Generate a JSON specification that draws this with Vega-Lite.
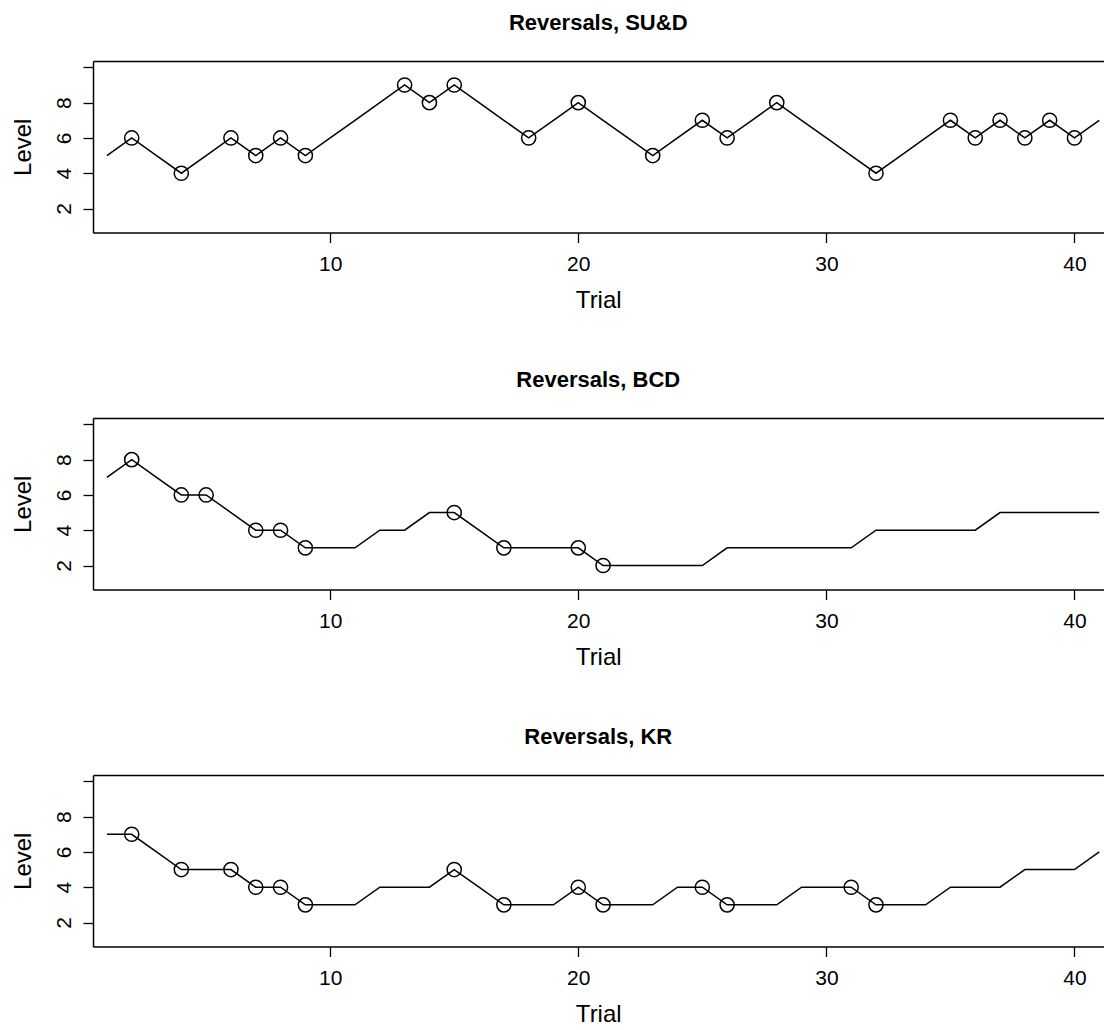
{
  "$schema": "https://vega.github.io/schema/vega-lite/v6.json",
  "padding": {"left": 11, "top": 12, "right": 0, "bottom": 0},
  "background": "white",
  "spacing": 56,
  "config": {
    "view": {"stroke": null},
    "font": "Liberation Sans",
    "title": {"font": "Liberation Sans", "fontSize": 22, "fontWeight": "bold", "color": "black", "anchor": "middle", "offset": 26},
    "axis": {"domainColor": "black", "domainWidth": 1.5, "tickColor": "black", "tickWidth": 1.3, "labelColor": "black", "titleColor": "black", "labelFont": "Liberation Sans", "titleFont": "Liberation Sans", "grid": false}
  },
  "datasets": {
    "rev": [
      {"panel": "SU&D", "trial": 1, "level": 5, "rev": false},
      {"panel": "SU&D", "trial": 2, "level": 6, "rev": true},
      {"panel": "SU&D", "trial": 3, "level": 5, "rev": false},
      {"panel": "SU&D", "trial": 4, "level": 4, "rev": true},
      {"panel": "SU&D", "trial": 5, "level": 5, "rev": false},
      {"panel": "SU&D", "trial": 6, "level": 6, "rev": true},
      {"panel": "SU&D", "trial": 7, "level": 5, "rev": true},
      {"panel": "SU&D", "trial": 8, "level": 6, "rev": true},
      {"panel": "SU&D", "trial": 9, "level": 5, "rev": true},
      {"panel": "SU&D", "trial": 10, "level": 6, "rev": false},
      {"panel": "SU&D", "trial": 11, "level": 7, "rev": false},
      {"panel": "SU&D", "trial": 12, "level": 8, "rev": false},
      {"panel": "SU&D", "trial": 13, "level": 9, "rev": true},
      {"panel": "SU&D", "trial": 14, "level": 8, "rev": true},
      {"panel": "SU&D", "trial": 15, "level": 9, "rev": true},
      {"panel": "SU&D", "trial": 16, "level": 8, "rev": false},
      {"panel": "SU&D", "trial": 17, "level": 7, "rev": false},
      {"panel": "SU&D", "trial": 18, "level": 6, "rev": true},
      {"panel": "SU&D", "trial": 19, "level": 7, "rev": false},
      {"panel": "SU&D", "trial": 20, "level": 8, "rev": true},
      {"panel": "SU&D", "trial": 21, "level": 7, "rev": false},
      {"panel": "SU&D", "trial": 22, "level": 6, "rev": false},
      {"panel": "SU&D", "trial": 23, "level": 5, "rev": true},
      {"panel": "SU&D", "trial": 24, "level": 6, "rev": false},
      {"panel": "SU&D", "trial": 25, "level": 7, "rev": true},
      {"panel": "SU&D", "trial": 26, "level": 6, "rev": true},
      {"panel": "SU&D", "trial": 27, "level": 7, "rev": false},
      {"panel": "SU&D", "trial": 28, "level": 8, "rev": true},
      {"panel": "SU&D", "trial": 29, "level": 7, "rev": false},
      {"panel": "SU&D", "trial": 30, "level": 6, "rev": false},
      {"panel": "SU&D", "trial": 31, "level": 5, "rev": false},
      {"panel": "SU&D", "trial": 32, "level": 4, "rev": true},
      {"panel": "SU&D", "trial": 33, "level": 5, "rev": false},
      {"panel": "SU&D", "trial": 34, "level": 6, "rev": false},
      {"panel": "SU&D", "trial": 35, "level": 7, "rev": true},
      {"panel": "SU&D", "trial": 36, "level": 6, "rev": true},
      {"panel": "SU&D", "trial": 37, "level": 7, "rev": true},
      {"panel": "SU&D", "trial": 38, "level": 6, "rev": true},
      {"panel": "SU&D", "trial": 39, "level": 7, "rev": true},
      {"panel": "SU&D", "trial": 40, "level": 6, "rev": true},
      {"panel": "SU&D", "trial": 41, "level": 7, "rev": false},
      {"panel": "BCD", "trial": 1, "level": 7, "rev": false},
      {"panel": "BCD", "trial": 2, "level": 8, "rev": true},
      {"panel": "BCD", "trial": 3, "level": 7, "rev": false},
      {"panel": "BCD", "trial": 4, "level": 6, "rev": true},
      {"panel": "BCD", "trial": 5, "level": 6, "rev": true},
      {"panel": "BCD", "trial": 6, "level": 5, "rev": false},
      {"panel": "BCD", "trial": 7, "level": 4, "rev": true},
      {"panel": "BCD", "trial": 8, "level": 4, "rev": true},
      {"panel": "BCD", "trial": 9, "level": 3, "rev": true},
      {"panel": "BCD", "trial": 10, "level": 3, "rev": false},
      {"panel": "BCD", "trial": 11, "level": 3, "rev": false},
      {"panel": "BCD", "trial": 12, "level": 4, "rev": false},
      {"panel": "BCD", "trial": 13, "level": 4, "rev": false},
      {"panel": "BCD", "trial": 14, "level": 5, "rev": false},
      {"panel": "BCD", "trial": 15, "level": 5, "rev": true},
      {"panel": "BCD", "trial": 16, "level": 4, "rev": false},
      {"panel": "BCD", "trial": 17, "level": 3, "rev": true},
      {"panel": "BCD", "trial": 18, "level": 3, "rev": false},
      {"panel": "BCD", "trial": 19, "level": 3, "rev": false},
      {"panel": "BCD", "trial": 20, "level": 3, "rev": true},
      {"panel": "BCD", "trial": 21, "level": 2, "rev": true},
      {"panel": "BCD", "trial": 22, "level": 2, "rev": false},
      {"panel": "BCD", "trial": 23, "level": 2, "rev": false},
      {"panel": "BCD", "trial": 24, "level": 2, "rev": false},
      {"panel": "BCD", "trial": 25, "level": 2, "rev": false},
      {"panel": "BCD", "trial": 26, "level": 3, "rev": false},
      {"panel": "BCD", "trial": 27, "level": 3, "rev": false},
      {"panel": "BCD", "trial": 28, "level": 3, "rev": false},
      {"panel": "BCD", "trial": 29, "level": 3, "rev": false},
      {"panel": "BCD", "trial": 30, "level": 3, "rev": false},
      {"panel": "BCD", "trial": 31, "level": 3, "rev": false},
      {"panel": "BCD", "trial": 32, "level": 4, "rev": false},
      {"panel": "BCD", "trial": 33, "level": 4, "rev": false},
      {"panel": "BCD", "trial": 34, "level": 4, "rev": false},
      {"panel": "BCD", "trial": 35, "level": 4, "rev": false},
      {"panel": "BCD", "trial": 36, "level": 4, "rev": false},
      {"panel": "BCD", "trial": 37, "level": 5, "rev": false},
      {"panel": "BCD", "trial": 38, "level": 5, "rev": false},
      {"panel": "BCD", "trial": 39, "level": 5, "rev": false},
      {"panel": "BCD", "trial": 40, "level": 5, "rev": false},
      {"panel": "BCD", "trial": 41, "level": 5, "rev": false},
      {"panel": "KR", "trial": 1, "level": 7, "rev": false},
      {"panel": "KR", "trial": 2, "level": 7, "rev": true},
      {"panel": "KR", "trial": 3, "level": 6, "rev": false},
      {"panel": "KR", "trial": 4, "level": 5, "rev": true},
      {"panel": "KR", "trial": 5, "level": 5, "rev": false},
      {"panel": "KR", "trial": 6, "level": 5, "rev": true},
      {"panel": "KR", "trial": 7, "level": 4, "rev": true},
      {"panel": "KR", "trial": 8, "level": 4, "rev": true},
      {"panel": "KR", "trial": 9, "level": 3, "rev": true},
      {"panel": "KR", "trial": 10, "level": 3, "rev": false},
      {"panel": "KR", "trial": 11, "level": 3, "rev": false},
      {"panel": "KR", "trial": 12, "level": 4, "rev": false},
      {"panel": "KR", "trial": 13, "level": 4, "rev": false},
      {"panel": "KR", "trial": 14, "level": 4, "rev": false},
      {"panel": "KR", "trial": 15, "level": 5, "rev": true},
      {"panel": "KR", "trial": 16, "level": 4, "rev": false},
      {"panel": "KR", "trial": 17, "level": 3, "rev": true},
      {"panel": "KR", "trial": 18, "level": 3, "rev": false},
      {"panel": "KR", "trial": 19, "level": 3, "rev": false},
      {"panel": "KR", "trial": 20, "level": 4, "rev": true},
      {"panel": "KR", "trial": 21, "level": 3, "rev": true},
      {"panel": "KR", "trial": 22, "level": 3, "rev": false},
      {"panel": "KR", "trial": 23, "level": 3, "rev": false},
      {"panel": "KR", "trial": 24, "level": 4, "rev": false},
      {"panel": "KR", "trial": 25, "level": 4, "rev": true},
      {"panel": "KR", "trial": 26, "level": 3, "rev": true},
      {"panel": "KR", "trial": 27, "level": 3, "rev": false},
      {"panel": "KR", "trial": 28, "level": 3, "rev": false},
      {"panel": "KR", "trial": 29, "level": 4, "rev": false},
      {"panel": "KR", "trial": 30, "level": 4, "rev": false},
      {"panel": "KR", "trial": 31, "level": 4, "rev": true},
      {"panel": "KR", "trial": 32, "level": 3, "rev": true},
      {"panel": "KR", "trial": 33, "level": 3, "rev": false},
      {"panel": "KR", "trial": 34, "level": 3, "rev": false},
      {"panel": "KR", "trial": 35, "level": 4, "rev": false},
      {"panel": "KR", "trial": 36, "level": 4, "rev": false},
      {"panel": "KR", "trial": 37, "level": 4, "rev": false},
      {"panel": "KR", "trial": 38, "level": 5, "rev": false},
      {"panel": "KR", "trial": 39, "level": 5, "rev": false},
      {"panel": "KR", "trial": 40, "level": 5, "rev": false},
      {"panel": "KR", "trial": 41, "level": 6, "rev": false}
    ]
  },
  "data": {"name": "rev"},
  "vconcat": [
    {
      "title": {"text": "Reversals, SU&D"},
      "width": 1010.5,
      "height": 171.5,
      "transform": [{"filter": "datum.panel == 'SU&D'"}],
      "encoding": {
        "y": {"field": "level", "type": "quantitative", "scale": {"domain": [0.64, 10.36], "nice": false, "zero": false},
          "axis": {"values": [2, 4, 6, 8, 10], "labelExpr": "datum.value == 10 ? '' : datum.label", "tickSize": 10, "labelFontSize": 21, "labelAngle": 270, "labelAlign": "center", "labelBaseline": "bottom", "labelPadding": 9, "title": "Level", "titleFontSize": 24, "titleFontWeight": "normal", "titlePadding": 18}}
      },
      "layer": [
        {"mark": {"type": "line", "color": "black", "strokeWidth": 1.5},
         "encoding": {"x": {"field": "trial", "type": "quantitative", "scale": {"domain": [0.44, 41.17], "nice": false, "zero": false},
           "axis": {"values": [10, 20, 30, 40], "tickSize": 10, "labelFontSize": 21, "labelPadding": 11, "labelFlush": false, "title": "Trial", "titleFontSize": 24, "titleFontWeight": "normal", "titlePadding": 14}}}},
        {"transform": [{"filter": "datum.rev"}],
         "mark": {"type": "point", "shape": "circle", "filled": false, "size": 200, "color": "black", "strokeWidth": 1.5, "opacity": 1},
         "encoding": {"x": {"field": "trial", "type": "quantitative", "axis": {"orient": "top", "labels": false, "ticks": false, "title": null, "domain": true}}}}
      ],
      "resolve": {"axis": {"x": "independent"}}
    },
    {
      "title": {"text": "Reversals, BCD"},
      "width": 1010.5,
      "height": 171.5,
      "transform": [{"filter": "datum.panel == 'BCD'"}],
      "encoding": {
        "y": {"field": "level", "type": "quantitative", "scale": {"domain": [0.64, 10.36], "nice": false, "zero": false},
          "axis": {"values": [2, 4, 6, 8, 10], "labelExpr": "datum.value == 10 ? '' : datum.label", "tickSize": 10, "labelFontSize": 21, "labelAngle": 270, "labelAlign": "center", "labelBaseline": "bottom", "labelPadding": 9, "title": "Level", "titleFontSize": 24, "titleFontWeight": "normal", "titlePadding": 18}}
      },
      "layer": [
        {"mark": {"type": "line", "color": "black", "strokeWidth": 1.5},
         "encoding": {"x": {"field": "trial", "type": "quantitative", "scale": {"domain": [0.44, 41.17], "nice": false, "zero": false},
           "axis": {"values": [10, 20, 30, 40], "tickSize": 10, "labelFontSize": 21, "labelPadding": 11, "labelFlush": false, "title": "Trial", "titleFontSize": 24, "titleFontWeight": "normal", "titlePadding": 14}}}},
        {"transform": [{"filter": "datum.rev"}],
         "mark": {"type": "point", "shape": "circle", "filled": false, "size": 200, "color": "black", "strokeWidth": 1.5, "opacity": 1},
         "encoding": {"x": {"field": "trial", "type": "quantitative", "axis": {"orient": "top", "labels": false, "ticks": false, "title": null, "domain": true}}}}
      ],
      "resolve": {"axis": {"x": "independent"}}
    },
    {
      "title": {"text": "Reversals, KR"},
      "width": 1010.5,
      "height": 171.5,
      "transform": [{"filter": "datum.panel == 'KR'"}],
      "encoding": {
        "y": {"field": "level", "type": "quantitative", "scale": {"domain": [0.64, 10.36], "nice": false, "zero": false},
          "axis": {"values": [2, 4, 6, 8, 10], "labelExpr": "datum.value == 10 ? '' : datum.label", "tickSize": 10, "labelFontSize": 21, "labelAngle": 270, "labelAlign": "center", "labelBaseline": "bottom", "labelPadding": 9, "title": "Level", "titleFontSize": 24, "titleFontWeight": "normal", "titlePadding": 18}}
      },
      "layer": [
        {"mark": {"type": "line", "color": "black", "strokeWidth": 1.5},
         "encoding": {"x": {"field": "trial", "type": "quantitative", "scale": {"domain": [0.44, 41.17], "nice": false, "zero": false},
           "axis": {"values": [10, 20, 30, 40], "tickSize": 10, "labelFontSize": 21, "labelPadding": 11, "labelFlush": false, "title": "Trial", "titleFontSize": 24, "titleFontWeight": "normal", "titlePadding": 14}}}},
        {"transform": [{"filter": "datum.rev"}],
         "mark": {"type": "point", "shape": "circle", "filled": false, "size": 200, "color": "black", "strokeWidth": 1.5, "opacity": 1},
         "encoding": {"x": {"field": "trial", "type": "quantitative", "axis": {"orient": "top", "labels": false, "ticks": false, "title": null, "domain": true}}}}
      ],
      "resolve": {"axis": {"x": "independent"}}
    }
  ]
}
